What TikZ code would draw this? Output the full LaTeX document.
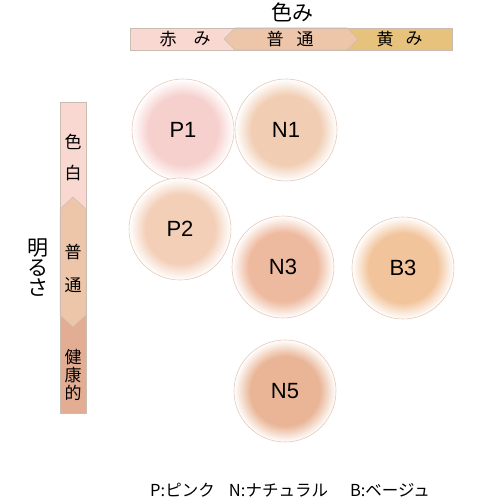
\documentclass[tikz,border=0pt]{standalone}
\usepackage{fontspec}
\setmainfont{Liberation Sans}
\newfontfamily\jp{Noto Sans CJK JP}
\definecolor{cP1}{HTML}{F6D0CD}
\definecolor{cN1}{HTML}{F1CDB3}
\definecolor{cP2}{HTML}{F3CFB8}
\definecolor{cN3}{HTML}{EEBA9F}
\definecolor{cB3}{HTML}{F2C49C}
\definecolor{cN5}{HTML}{E9B596}
\definecolor{ringc}{HTML}{E6C9BA}
\definecolor{barpink}{HTML}{F8D8D0}
\definecolor{barmid}{HTML}{EDC6AA}
\definecolor{baryel}{HTML}{E6C27C}
\definecolor{barbot}{HTML}{E2AD92}
\definecolor{barline}{HTML}{C9BDB3}
\pgfdeclareradialshading{puffP1}{\pgfpoint{0bp}{0bp}}{color(0bp)=(cP1);color(17bp)=(cP1);color(25bp)=(white);color(50bp)=(white)}
\pgfdeclareradialshading{puffN1}{\pgfpoint{0bp}{0bp}}{color(0bp)=(cN1);color(17bp)=(cN1);color(25bp)=(white);color(50bp)=(white)}
\pgfdeclareradialshading{puffP2}{\pgfpoint{0bp}{0bp}}{color(0bp)=(cP2);color(17bp)=(cP2);color(25bp)=(white);color(50bp)=(white)}
\pgfdeclareradialshading{puffN3}{\pgfpoint{0bp}{0bp}}{color(0bp)=(cN3);color(17bp)=(cN3);color(25bp)=(white);color(50bp)=(white)}
\pgfdeclareradialshading{puffB3}{\pgfpoint{0bp}{0bp}}{color(0bp)=(cB3);color(17bp)=(cB3);color(25bp)=(white);color(50bp)=(white)}
\pgfdeclareradialshading{puffN5}{\pgfpoint{0bp}{0bp}}{color(0bp)=(cN5);color(17bp)=(cN5);color(25bp)=(white);color(50bp)=(white)}
\tikzset{
  puff/.style={circle, minimum size=102pt, inner sep=0pt, draw=ringc, line width=0.6pt,
    font=\fontsize{22}{24}\selectfont, text=black},
  barlbl/.style={font=\jp\fontsize{17}{19}\selectfont, inner sep=0pt},
  ttl/.style={font=\jp\fontsize{21}{23}\selectfont, inner sep=0pt},
  lgd/.style={font=\jp\fontsize{16.5}{18}\selectfont, inner sep=0pt},
  seg/.style={draw=barline, line width=0.5pt},
}
\begin{document}
\begin{tikzpicture}[x=1pt, y=-1pt]
\useasboundingbox (0,0) rectangle (500,500);
% top bar
\fill[barpink] (130,28) rectangle (236,50);
\fill[baryel] (346,28) rectangle (452,50);
\draw[seg, fill=barmid] (235,28) -- (347,28) -- (358,39) -- (347,50) -- (235,50) -- (224,39) -- cycle;
\draw[seg] (130,28) rectangle (452,50);
\node[ttl] (tc) at (292,12) {色み};
\node[barlbl] (t1) at (168,39) {赤};
\node[barlbl] (t2) at (202,39) {み};
\node[barlbl] (t3) at (275,39) {普};
\node[barlbl] (t4) at (305,39) {通};
\node[barlbl] (t5) at (385,39) {黄};
\node[barlbl] (t6) at (414,39) {み};
% left bar
\fill[barpink] (60,102) rectangle (86,209);
\fill[barbot] (60,314) rectangle (86,413);
\draw[seg, fill=barmid] (60,209) -- (73,197) -- (86,209) -- (86,315) -- (73,327) -- (60,315) -- cycle;
\draw[seg] (60,102) rectangle (86,413);
\node[barlbl] (v1) at (73,142) {色};
\node[barlbl] (v2) at (73,173) {白};
\node[barlbl] (v3) at (73,252) {普};
\node[barlbl] (v4) at (73,285) {通};
\node[barlbl] (v5) at (73,357) {健};
\node[barlbl] (v6) at (73,375) {康};
\node[barlbl] (v7) at (73,393) {的};
\node[ttl] (l1) at (38,248) {明};
\node[ttl] (l2) at (38,268) {る};
\node[ttl] (l3) at (38,288) {さ};
% circles
\node[puff, shading=puffP1] (P1) at (183,130) {P1};
\node[puff, shading=puffN1] (N1) at (286,130) {N1};
\node[puff, shading=puffP2] (P2) at (180,229) {P2};
\node[puff, shading=puffN3] (N3) at (283,267) {N3};
\node[puff, shading=puffB3] (B3) at (403,268) {B3};
\node[puff, shading=puffN5] (N5) at (285,391) {N5};
% legend
\node[lgd] (g1) at (182.5,490) {P:ピンク};
\node[lgd] (g2) at (278.5,490) {N:ナチュラル};
\node[lgd] (g3) at (390,490) {B:ベージュ};
\end{tikzpicture}
\end{document}
